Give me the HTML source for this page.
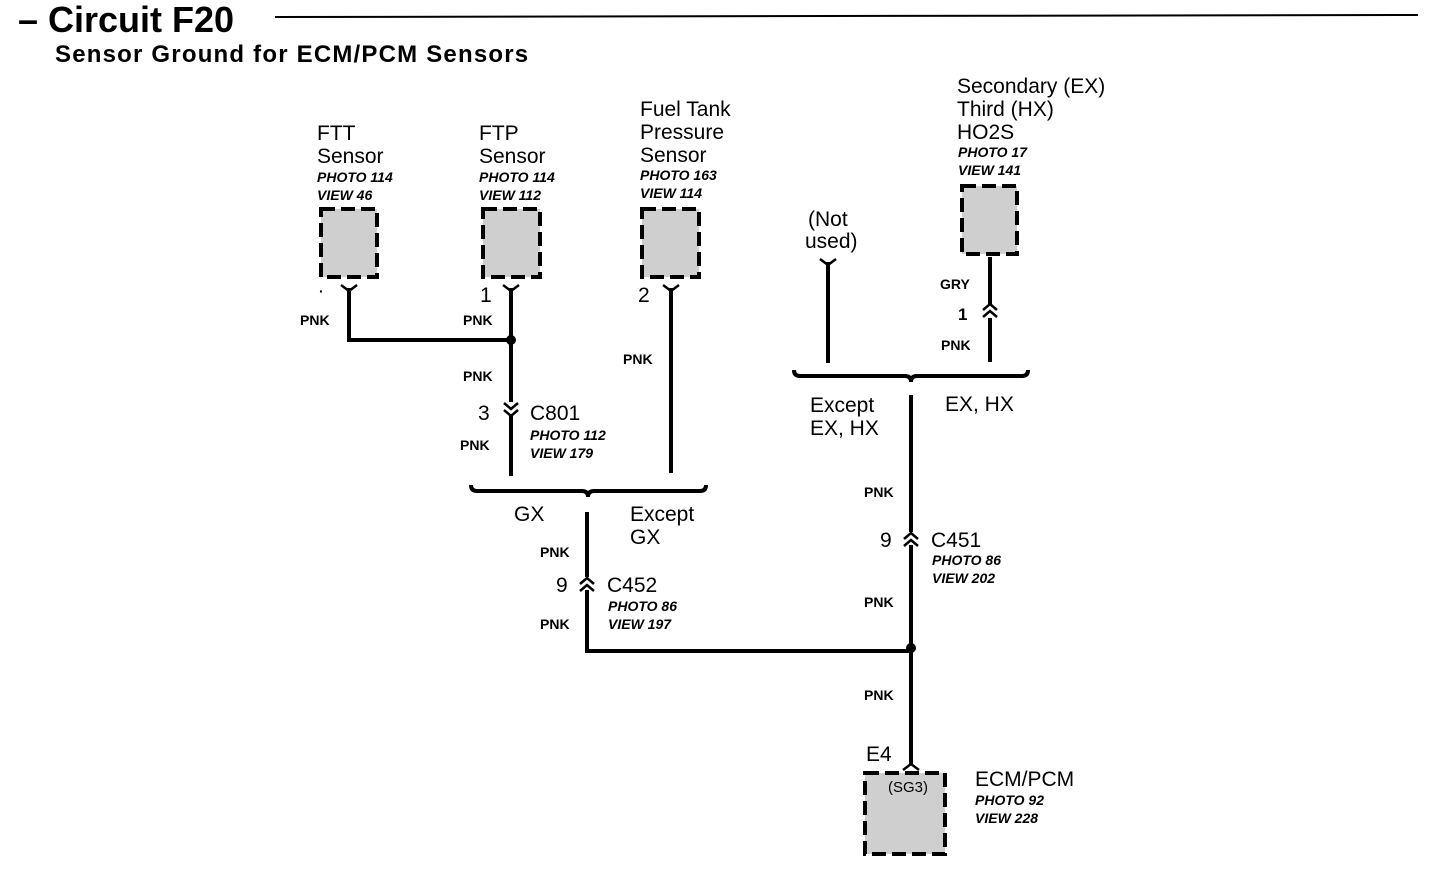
<!DOCTYPE html>
<html><head><meta charset="utf-8"><style>
body{margin:0;background:#fff;width:1440px;height:874px;overflow:hidden}
svg{display:block}
text{font-family:"Liberation Sans",sans-serif;fill:#000}
.l{font-size:21px}
.s{font-size:14px;font-weight:bold}
.i{font-size:14px;font-style:italic;font-weight:bold}
.w{stroke:#000;stroke-width:4;fill:none}
.b{fill:#cfcfcf;stroke:#000;stroke-width:4;stroke-dasharray:14 6}
.c{stroke:#000;stroke-width:2.5;fill:none}
</style></head><body>
<svg width="1440" height="874" xmlns="http://www.w3.org/2000/svg">
<text x="18" y="32" style="font-size:36px;font-weight:bold">– Circuit F20</text>
<line x1="275" y1="17" x2="1418" y2="15" stroke="#000" stroke-width="2"/>
<text x="55" y="62" style="font-size:24px;font-weight:bold;letter-spacing:1.2px">Sensor Ground for ECM/PCM Sensors</text>

<!-- FTT -->
<text x="317" y="140" class="l">FTT</text><text x="317" y="163" class="l">Sensor</text>
<text x="317" y="182" class="i">PHOTO 114</text><text x="317" y="200" class="i">VIEW 46</text>
<rect x="321" y="209" width="56" height="68" class="b"/>
<path d="M341 285 L349 291 L357 285" class="c"/>
<path d="M349 288 V340 H511" class="w"/>
<text x="300" y="325" class="s">PNK</text>
<text x="319" y="296" class="s">·</text>

<!-- FTP -->
<text x="479" y="140" class="l">FTP</text><text x="479" y="163" class="l">Sensor</text>
<text x="479" y="182" class="i">PHOTO 114</text><text x="479" y="200" class="i">VIEW 112</text>
<rect x="483" y="209" width="57" height="68" class="b"/>
<path d="M503 285 L511 291 L519 285" class="c"/>
<line x1="511" y1="288" x2="511" y2="402" class="w"/>
<line x1="511" y1="414" x2="511" y2="476" class="w"/>
<path d="M504 403 L511 409 L518 403 M504 410 L511 416 L518 410" class="c"/>
<circle cx="511" cy="340" r="5"/>
<text x="480" y="302" class="l">1</text>
<text x="463" y="325" class="s">PNK</text>
<text x="463" y="381" class="s">PNK</text>
<text x="478" y="420" class="l">3</text>
<text x="530" y="420" class="l">C801</text>
<text x="530" y="440" class="i">PHOTO 112</text><text x="530" y="458" class="i">VIEW 179</text>
<text x="460" y="450" class="s">PNK</text>

<!-- Fuel tank -->
<text x="640" y="116" class="l">Fuel Tank</text><text x="640" y="139" class="l">Pressure</text><text x="640" y="162" class="l">Sensor</text>
<text x="640" y="180" class="i">PHOTO 163</text><text x="640" y="198" class="i">VIEW 114</text>
<rect x="642" y="209" width="57" height="68" class="b"/>
<path d="M663 285 L671 291 L679 285" class="c"/>
<line x1="671" y1="288" x2="671" y2="473" class="w"/>
<text x="638" y="302" class="l">2</text>
<text x="623" y="364" class="s">PNK</text>

<!-- brace 1 -->
<path d="M471 485 Q471 491 477 491 H582 Q588 491 588 497 Q588 491 594 491 H700 Q706 491 706 485" class="w" stroke-width="3"/>
<text x="514" y="521" class="l">GX</text>
<text x="630" y="521" class="l">Except</text><text x="630" y="544" class="l">GX</text>

<!-- GX wire -->
<path d="M587 512 V577 M587 590 V651 H911" class="w"/>
<path d="M580 584 L587 578 L594 584 M580 591 L587 585 L594 591" class="c"/>
<text x="540" y="557" class="s">PNK</text>
<text x="556" y="592" class="l">9</text>
<text x="607" y="592" class="l">C452</text>
<text x="608" y="611" class="i">PHOTO 86</text><text x="608" y="629" class="i">VIEW 197</text>
<text x="540" y="629" class="s">PNK</text>

<!-- Not used -->
<text x="808" y="226" class="l">(Not</text><text x="805" y="248" class="l">used)</text>
<path d="M820 259 L828 265 L836 259" class="c"/>
<line x1="828" y1="262" x2="828" y2="363" class="w"/>

<!-- HO2S -->
<text x="957" y="93" class="l">Secondary (EX)</text><text x="957" y="116" class="l">Third (HX)</text><text x="957" y="139" class="l">HO2S</text>
<text x="958" y="157" class="i">PHOTO 17</text><text x="958" y="175" class="i">VIEW 141</text>
<rect x="962" y="186" width="55" height="68" class="b"/>
<path d="M990 257 V305 M990 318 V362" class="w"/>
<path d="M983 310 L990 304 L997 310 M983 317 L990 311 L997 317" class="c"/>
<text x="940" y="289" class="s">GRY</text>
<text x="958" y="320" class="s" style="font-size:17px">1</text>
<text x="941" y="350" class="s">PNK</text>

<!-- brace 2 -->
<path d="M794 370 Q794 376 800 376 H905 Q911 376 911 382 Q911 376 917 376 H1022 Q1028 376 1028 370" class="w" stroke-width="3"/>
<text x="810" y="412" class="l">Except</text><text x="810" y="435" class="l">EX, HX</text>
<text x="945" y="411" class="l">EX, HX</text>

<!-- main vertical -->
<path d="M911 395 V532 M911 545 V764" class="w"/>
<path d="M904 539 L911 533 L918 539 M904 546 L911 540 L918 546" class="c"/>
<circle cx="911" cy="648" r="5"/>
<text x="864" y="497" class="s">PNK</text>
<text x="880" y="547" class="l">9</text>
<text x="931" y="547" class="l">C451</text>
<text x="932" y="565" class="i">PHOTO 86</text><text x="932" y="583" class="i">VIEW 202</text>
<text x="864" y="607" class="s">PNK</text>
<text x="864" y="700" class="s">PNK</text>

<!-- ECM -->
<text x="866" y="761" class="l">E4</text>
<path d="M903 770 L911 764 L919 770" class="c"/>
<rect x="865" y="773" width="80" height="81" class="b"/>
<text x="888" y="792" class="s" style="font-weight:normal;font-size:15px">(SG3)</text>
<text x="975" y="786" class="l">ECM/PCM</text>
<text x="975" y="805" class="i">PHOTO 92</text><text x="975" y="823" class="i">VIEW 228</text>
</svg>
</body></html>
